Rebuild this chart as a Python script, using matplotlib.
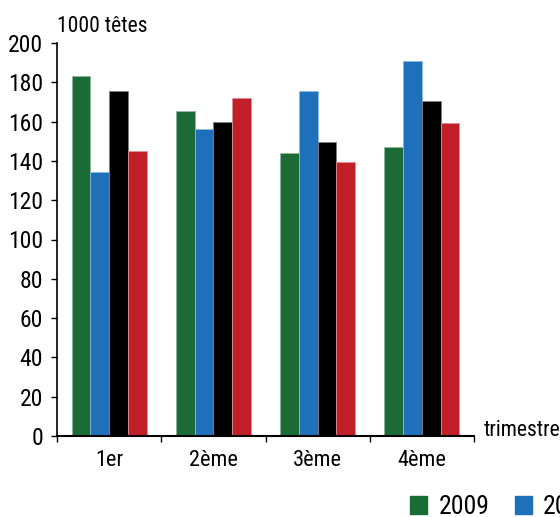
import matplotlib
matplotlib.use("Agg")
import matplotlib.pyplot as plt
from matplotlib.patches import Patch
from matplotlib import font_manager as fm
import numpy as np

quarters = ["1er", "2ème", "3ème", "4ème"]
years = ["2009", "2010", "2011", "2012"]
v2009 = [183.4, 165.2, 144.0, 147.1]
v2010 = [134.2, 156.1, 175.7, 190.8]
v2011 = [175.7, 160.0, 149.5, 170.5]
v2012 = [144.9, 172.0, 139.4, 159.3]
yticks = [0, 20, 40, 60, 80, 100, 120, 140, 160, 180, 200]
series = [v2009, v2010, v2011, v2012]
colors = ["#1b6b37", "#1f70bb", "#000000", "#c01f27"]
edge = ["#8fb59b", "#8fb7dd", "#808080", "#e08f93"]

fam = ["Roboto Condensed", "Liberation Sans", "DejaVu Sans"]

fig = plt.figure(figsize=(5.6, 5.17), dpi=100)
ax = fig.add_axes([57/560, 81/517, 417/560, 393/517])

x = np.arange(len(quarters))
w = 0.18
for i, (vals, c, ec) in enumerate(zip(series, colors, edge)):
    ax.bar(x + (i - 1.5) * w, vals, width=w, color=c, edgecolor=ec, linewidth=0.6, label=years[i], zorder=2)

ax.set_xlim(-0.5, 3.5)
ax.set_ylim(0, 200)
ax.set_yticks(yticks)
ax.set_yticklabels([str(t) for t in yticks], fontfamily=fam, fontsize=17)
ax.set_xticks(x)
ax.set_xticklabels(quarters, fontfamily=fam, fontsize=16)
ax.set_xticks(np.arange(-0.5, 3.6, 1.0), minor=True)
ax.tick_params(axis="x", which="major", length=0, pad=10)
ax.tick_params(axis="x", which="minor", length=4, width=1, direction="out")
ax.tick_params(axis="y", length=4, width=1, direction="out", pad=6)
for s in ["top", "right"]:
    ax.spines[s].set_visible(False)
ax.spines["left"].set_linewidth(1.2)
ax.spines["bottom"].set_linewidth(1.5)

ax.text(0, 1 + 11/393, "1000 têtes", transform=ax.transAxes, ha="left", va="baseline",
        fontfamily=fam, fontsize=15.5)
ax.text(1.024, 0, "trimestre", transform=ax.transAxes, ha="left", va="baseline",
        fontfamily=fam, fontsize=15.5, clip_on=False)

handles = [Patch(facecolor=c, edgecolor=c) for c in colors]
fig.legend(handles, years, loc="center left", bbox_to_anchor=(410/560, 1 - 507/517),
           ncol=4, frameon=False, prop=fm.FontProperties(family=fam, size=18.5),
           handlelength=0.65, handleheight=0.65, handletextpad=0.45, columnspacing=1.0,
           borderpad=0, borderaxespad=0)

fig.savefig("out.png", dpi=100)
